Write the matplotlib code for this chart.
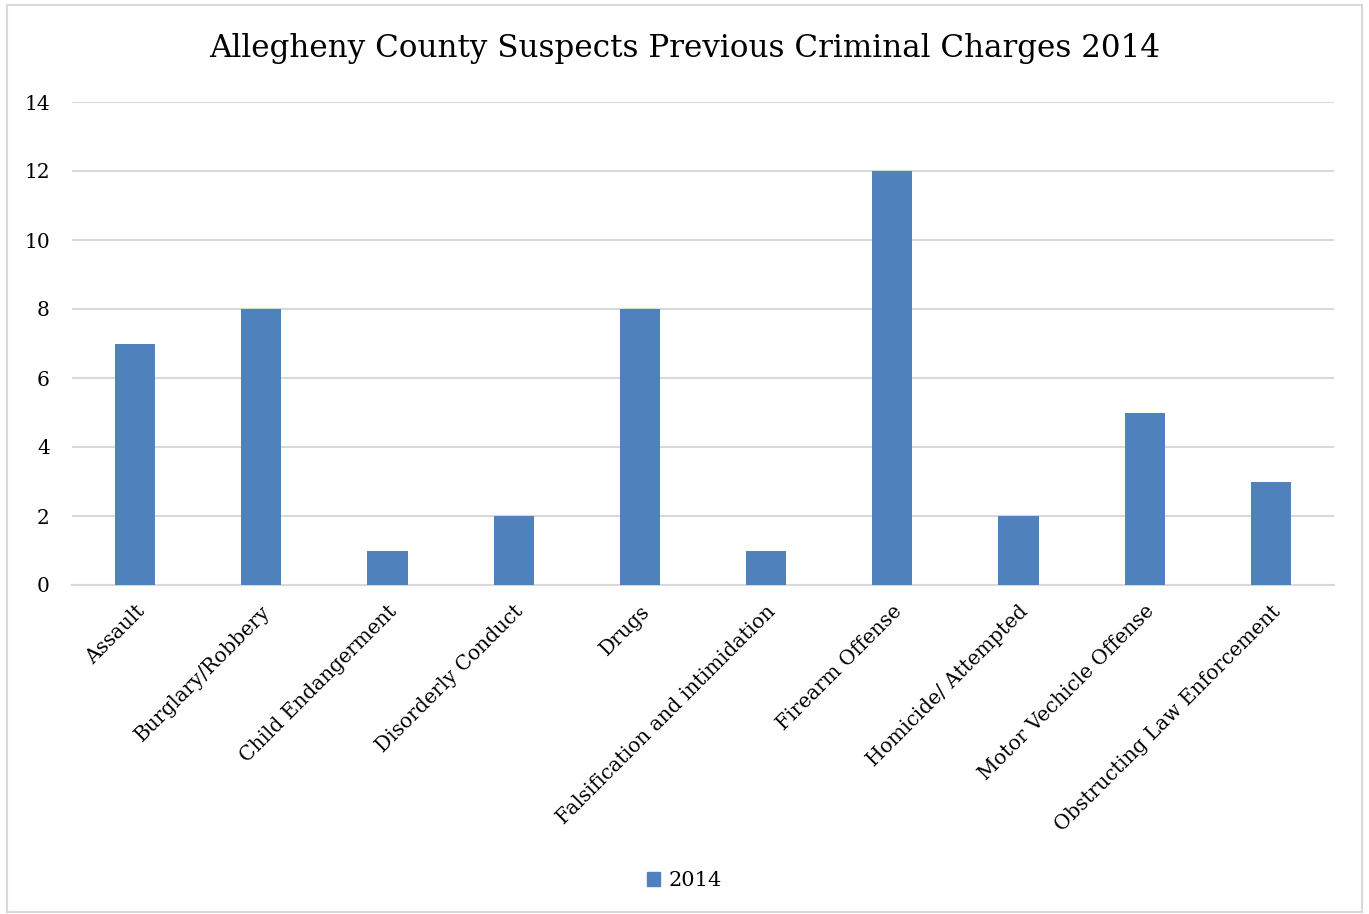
import matplotlib
matplotlib.use("Agg")
import matplotlib.pyplot as plt
from matplotlib.patches import Rectangle, Patch

categories = ["Assault", "Burglary/Robbery", "Child Endangerment", "Disorderly Conduct",
              "Drugs", "Falsification and intimidation", "Firearm Offense",
              "Homicide/ Attempted", "Motor Vechicle Offense", "Obstructing Law Enforcement"]
values_2014 = [7, 8, 1, 2, 8, 1, 12, 2, 5, 3]
yticks = [0, 2, 4, 6, 8, 10, 12, 14]

font = "DejaVu Serif"
W, H = 1369, 914
fig = plt.figure(figsize=(W / 100, H / 100), dpi=100)
fig.patches.append(Rectangle((7 / W, 1 - 912 / H), (1362 - 7) / W, (912 - 5) / H,
                             transform=fig.transFigure, fill=False,
                             edgecolor="#d9d9d9", linewidth=1.5))

ax = fig.add_axes([72 / W, 1 - 585 / H, (1334 - 72) / W, (585 - 102) / H])
x = list(range(len(categories)))
ax.bar(x, values_2014, width=0.32, color="#4f81bd", zorder=3, label="2014")
ax.set_xlim(-0.5, len(categories) - 0.5)
ax.set_ylim(0, 14)
ax.set_yticks(yticks)
ax.set_yticklabels([str(t) for t in yticks], fontfamily=font, fontsize=14.5)
ax.yaxis.grid(True, color="#d9d9d9", linewidth=1.5, zorder=0)
ax.tick_params(axis="y", length=0, pad=16)
ax.tick_params(axis="x", length=0, pad=12)
for s in ["top", "right", "left"]:
    ax.spines[s].set_visible(False)
ax.spines["bottom"].set_color("#d9d9d9")
ax.spines["bottom"].set_linewidth(1.5)
ax.set_xticks(x)
ax.set_xticklabels(categories, rotation=45, ha="right", va="top",
                   rotation_mode="anchor", fontfamily=font, fontsize=14.5)

fig.text(0.5, 1 - 48 / H, "Allegheny County Suspects Previous Criminal Charges 2014",
         ha="center", va="center", fontfamily=font, fontsize=22.3)

fig.legend(handles=[Patch(color="#4f81bd", label="2014")], loc="center",
           bbox_to_anchor=(0.5, 1 - 881 / H), frameon=False,
           prop={"family": font, "size": 15}, handlelength=0.65, handleheight=0.65,
           handletextpad=0.4)

fig.savefig("out.png", dpi=100)
